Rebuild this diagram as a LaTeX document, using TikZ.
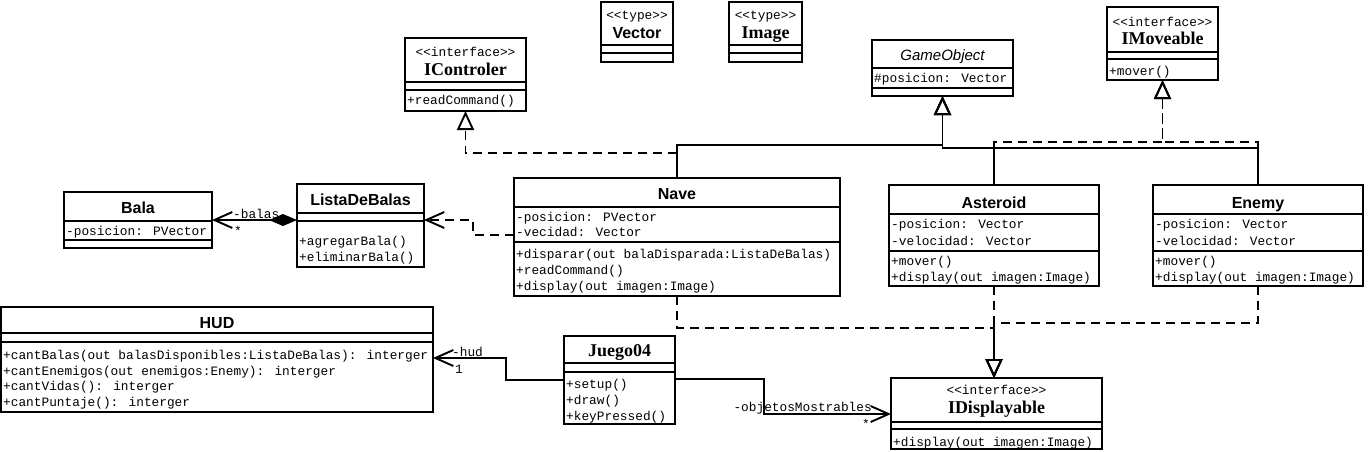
\documentclass[tikz,border=0pt]{standalone}
\usepackage{fontspec}
\usetikzlibrary{arrows.meta}
\newfontfamily\umono{Liberation Mono}
\newfontfamily\usans{Liberation Sans}
\newfontfamily\userif{Liberation Serif}
\newcommand\umlsep[2]{\draw[sepline] (#1.west |- 0,#2) -- (#1.east |- 0,#2);}
\tikzset{
  classbox/.style={draw, line width=1.9pt, inner sep=0pt, outer sep=0pt, anchor=north west, fill=white},
  sepline/.style={line width=1.9pt},
  mtext/.style={inner sep=0pt, anchor=base west, font=\umono\fontsize{12.8}{14}\selectfont},
  mctext/.style={mtext, anchor=base},
  stitle/.style={inner sep=0pt, anchor=base, font=\usans\bfseries\fontsize{16}{18}\selectfont},
  rtitle/.style={inner sep=0pt, anchor=base, font=\userif\bfseries\fontsize{18}{20}\selectfont},
  ititle/.style={inner sep=0pt, anchor=base, font=\usans\itshape\fontsize{15}{17}\selectfont},
  link/.style={line width=1.9pt},
  dashedlink/.style={link, dash pattern=on 9pt off 6pt},
  openhead/.style={-{Straight Barb[length=18pt,width=16pt]}},
  hollowhead/.style={-{Triangle[open,length=19pt,width=17pt]}},
  diamondtail/.style={{Diamond[length=28pt,width=12pt]}-{Straight Barb[length=18pt,width=16pt]}}
}
\begin{document}
\begin{tikzpicture}[x=1pt,y=-1pt]
\fill[white] (0,0) rectangle (1368,451);
\useasboundingbox (0,0) rectangle (1368,451);

% ---------- IControler
\node[classbox, minimum width=121pt, minimum height=73pt] (icontroler) at (405,38) {};
\umlsep{icontroler}{82}\umlsep{icontroler}{90}
\node[mctext] (icontroler-st) at (icontroler.north |- 0,56) {<<interface>>};
\node[rtitle] (icontroler-t) at (icontroler.north |- 0,75) {IControler};
\node[mtext] (icontroler-m1) at (407,104) {+readCommand()};

% ---------- Vector
\node[classbox, minimum width=72pt, minimum height=60pt] (vector) at (601,2) {};
\umlsep{vector}{45}\umlsep{vector}{53}
\node[mctext] (vector-st) at (vector.north |- 0,19) {<<type>>};
\node[stitle] (vector-t) at (vector.north |- 0,38) {Vector};

% ---------- Image
\node[classbox, minimum width=73pt, minimum height=60pt] (image) at (729,2) {};
\umlsep{image}{45}\umlsep{image}{53}
\node[mctext] (image-st) at (image.north |- 0,19) {<<type>>};
\node[rtitle] (image-t) at (image.north |- 0,38) {Image};

% ---------- GameObject
\node[classbox, minimum width=141pt, minimum height=56pt] (gameobject) at (872,40) {};
\umlsep{gameobject}{68}\umlsep{gameobject}{88}
\node[ititle] (gameobject-t) at (gameobject.north |- 0,60) {GameObject};
\node[mtext] (gameobject-a1) at (874,82) {\#posicion: Vector};

% ---------- IMoveable
\node[classbox, minimum width=111pt, minimum height=73pt] (imoveable) at (1107,7) {};
\umlsep{imoveable}{52}\umlsep{imoveable}{59}
\node[mctext] (imoveable-st) at (imoveable.north |- 0,26) {<<interface>>};
\node[rtitle] (imoveable-t) at (imoveable.north |- 0,44) {IMoveable};
\node[mtext] (imoveable-m1) at (1109,75) {+mover()};

% ---------- Bala
\node[classbox, minimum width=148pt, minimum height=56pt] (bala) at (64,192) {};
\umlsep{bala}{221}\umlsep{bala}{240}
\node[stitle] (bala-t) at (bala.north |- 0,213) {Bala};
\node[mtext] (bala-a1) at (66,235) {-posicion: PVector};

% ---------- ListaDeBalas
\node[classbox, minimum width=127pt, minimum height=83pt] (lista) at (297,184) {};
\umlsep{lista}{213}\umlsep{lista}{221}
\node[stitle] (lista-t) at (lista.north |- 0,205) {ListaDeBalas};
\node[mtext] (lista-m1) at (299,245) {+agregarBala()};
\node[mtext] (lista-m2) at (299,261) {+eliminarBala()};

% ---------- Nave
\node[classbox, minimum width=326pt, minimum height=118pt] (nave) at (514,178) {};
\umlsep{nave}{207}\umlsep{nave}{242}
\node[stitle] (nave-t) at (nave.north |- 0,199) {Nave};
\node[mtext] (nave-a1) at (516,221) {-posicion: PVector};
\node[mtext] (nave-a2) at (516,236) {-vecidad: Vector};
\node[mtext] (nave-m1) at (516,258) {+disparar(out balaDisparada:ListaDeBalas)};
\node[mtext] (nave-m2) at (516,274) {+readCommand()};
\node[mtext] (nave-m3) at (516,290) {+display(out imagen:Image)};

% ---------- Asteroid
\node[classbox, minimum width=210pt, minimum height=101pt] (asteroid) at (889,185) {};
\umlsep{asteroid}{214}\umlsep{asteroid}{251}
\node[stitle] (asteroid-t) at (asteroid.north |- 0,208) {Asteroid};
\node[mtext] (asteroid-a1) at (891,228) {-posicion: Vector};
\node[mtext] (asteroid-a2) at (891,245) {-velocidad: Vector};
\node[mtext] (asteroid-m1) at (891,265) {+mover()};
\node[mtext] (asteroid-m2) at (891,281) {+display(out imagen:Image)};

% ---------- Enemy
\node[classbox, minimum width=210pt, minimum height=101pt] (enemy) at (1153,185) {};
\umlsep{enemy}{214}\umlsep{enemy}{251}
\node[stitle] (enemy-t) at (enemy.north |- 0,208) {Enemy};
\node[mtext] (enemy-a1) at (1155,228) {-posicion: Vector};
\node[mtext] (enemy-a2) at (1155,245) {-velocidad: Vector};
\node[mtext] (enemy-m1) at (1155,265) {+mover()};
\node[mtext] (enemy-m2) at (1155,281) {+display(out imagen:Image)};

% ---------- HUD
\node[classbox, minimum width=432pt, minimum height=105pt] (hud) at (1,307) {};
\umlsep{hud}{333}\umlsep{hud}{342}
\node[stitle] (hud-t) at (hud.north |- 0,328) {HUD};
\node[mtext] (hud-m1) at (3,359) {+cantBalas(out balasDisponibles:ListaDeBalas): interger};
\node[mtext] (hud-m2) at (3,375) {+cantEnemigos(out enemigos:Enemy): interger};
\node[mtext] (hud-m3) at (3,390) {+cantVidas(): interger};
\node[mtext] (hud-m4) at (3,406) {+cantPuntaje(): interger};

% ---------- Juego04
\node[classbox, minimum width=111pt, minimum height=88pt] (juego) at (564,336) {};
\umlsep{juego}{363}\umlsep{juego}{372}
\node[rtitle] (juego-t) at (juego.north |- 0,356) {Juego04};
\node[mtext] (juego-m1) at (566,388) {+setup()};
\node[mtext] (juego-m2) at (566,404) {+draw()};
\node[mtext] (juego-m3) at (566,420) {+keyPressed()};

% ---------- IDisplayable
\node[classbox, minimum width=211pt, minimum height=71pt] (idisplayable) at (891,378) {};
\umlsep{idisplayable}{422}\umlsep{idisplayable}{429}
\node[mctext] (idisplayable-st) at (idisplayable.north |- 0,394) {<<interface>>};
\node[rtitle] (idisplayable-t) at (idisplayable.north |- 0,413) {IDisplayable};
\node[mtext] (idisplayable-m1) at (893,446) {+display(out imagen:Image)};

% ---------- connectors
% composition ListaDeBalas -> Bala
\draw[link, diamondtail] (lista.west |- 0,220) -- (bala.east |- 0,220);
\node[mtext] (lbl-balas) at (233,218) {-balas};
\node[mtext] (lbl-balas-m) at (234,235) {*};

% dependency Nave -> ListaDeBalas
\draw[dashedlink, openhead] (nave.west |- 0,235) -- (473,235) -- (473,220) -- (lista.east |- 0,220);

% Nave realizes IControler
\draw[dashedlink, hollowhead] (nave.north |- 0,153) -| (icontroler.south);

% generalizations to GameObject
\draw[link, hollowhead] (nave.north) |- (gameobject.south |- 0,145) -- (gameobject.south);
\draw[link, hollowhead] (asteroid.north) |- (gameobject.south |- 0,148) -- (gameobject.south);
\draw[link, hollowhead] (enemy.north) |- (gameobject.south |- 0,148) -- (gameobject.south);

% realizations of IMoveable
\draw[dashedlink, hollowhead] (asteroid.north |- 0,148) |- (imoveable.south |- 0,142) -- (imoveable.south);
\draw[dashedlink, hollowhead] (enemy.north |- 0,148) |- (imoveable.south |- 0,142) -- (imoveable.south);

% realizations of IDisplayable
\draw[dashedlink, hollowhead] (asteroid.south) -- (asteroid.south |- idisplayable.north);
\draw[dashedlink, hollowhead] (nave.south) |- (asteroid.south |- 0,328) -- (asteroid.south |- idisplayable.north);
\draw[dashedlink, hollowhead] (enemy.south) |- (asteroid.south |- 0,323) -- (asteroid.south |- idisplayable.north);

% association Juego04 -> HUD
\draw[link, openhead] (juego.west |- 0,380) -- (506,380) -- (506,358) -- (hud.east |- 0,358);
\node[mtext] (lbl-hud) at (452,356) {-hud};
\node[mtext] (lbl-hud-m) at (455,373) {1};

% association Juego04 -> IDisplayable
\draw[link, openhead] (juego.east |- 0,379) -- (764,379) -- (764,414) -- (idisplayable.west |- 0,414);
\node[mtext, anchor=base east] (lbl-obj) at (872,411) {-objetosMostrables};
\node[mtext] (lbl-obj-m) at (862,428) {*};
\end{tikzpicture}
\end{document}
